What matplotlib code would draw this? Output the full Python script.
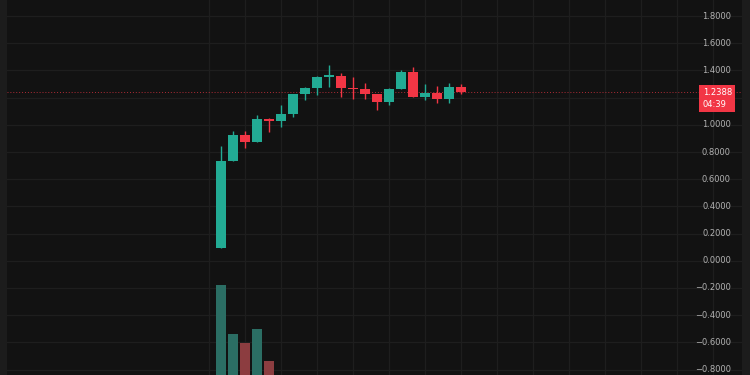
import numpy as np
import matplotlib.pyplot as plt
import matplotlib.transforms as mtransforms

# OHLC + volume
opens = [0.096, 0.735, 0.924, 0.877, 1.046, 1.027, 1.078, 1.223, 1.274, 1.355, 1.362,
         1.270, 1.260, 1.223, 1.169, 1.267, 1.385, 1.205, 1.233, 1.189, 1.279]
closes = [0.735, 0.924, 0.877, 1.046, 1.027, 1.078, 1.223, 1.274, 1.355, 1.362, 1.270,
          1.260, 1.223, 1.169, 1.267, 1.385, 1.205, 1.233, 1.189, 1.279, 1.2388]
highs = [0.846, 0.951, 0.956, 1.074, 1.050, 1.147, 1.223, 1.280, 1.360, 1.441, 1.380,
         1.350, 1.307, 1.230, 1.270, 1.404, 1.424, 1.299, 1.282, 1.307, 1.300]
lows = [0.096, 0.735, 0.829, 0.877, 0.949, 0.985, 1.057, 1.179, 1.218, 1.280, 1.208,
        1.190, 1.190, 1.108, 1.145, 1.267, 1.201, 1.184, 1.164, 1.160, 1.223]
volumes = [100, 55, 47, 60, 31, 12, 10, 9, 8, 11, 9, 6, 5, 7, 8, 9, 10, 6, 5, 6, 4]
countdown = '04:39'

price_ticks = np.round(np.arange(-0.8, 1.81, 0.2), 4)

UP = '#22ab94'
DOWN = '#f23645'
VOL_UP = '#2b6e64'
VOL_DOWN = '#8c3d40'
BG = '#121212'

fig = plt.figure(figsize=(7.5, 3.75), dpi=100, facecolor='#1c1c1c')
ax = fig.add_axes([7 / 750, 0, 735 / 750, 1])
ax.set_facecolor(BG)

x = np.arange(len(opens))
o = np.array(opens)
c = np.array(closes)
up = c >= o
colors = np.where(up, UP, DOWN)

ax.set_xlim(-17.83, 43.42)
ax.set_ylim(-0.840, 1.918)

# grid
ax.set_yticks(price_ticks)
ax.set_xticks(np.arange(-1, 44, 3))
ax.grid(color='#1e1e1e', linewidth=0.9)
ax.set_axisbelow(True)
ax.tick_params(length=0, labelleft=False, labelbottom=False)
for s in ax.spines.values():
    s.set_visible(False)

# candles
ax.vlines(x, lows, highs, colors=colors, linewidth=1.0, zorder=2)
body = np.maximum(np.abs(c - o), 0.008)
ax.bar(x, body, bottom=np.minimum(o, c), width=0.78, color=colors, zorder=3)

# volume on its own scale at the bottom
ax2 = ax.twinx()
ax2.set_ylim(18, 360)
ax2.bar(x, volumes, width=0.89, color=np.where(up, VOL_UP, VOL_DOWN), zorder=1)
ax2.set_axis_off()

last = closes[-1]

# price labels on the right (the one under the last-price tag is hidden)
trans = mtransforms.blended_transform_factory(ax.transAxes, ax.transData)
for v in price_ticks:
    if abs(v - last) < 0.08:
        continue
    lbl = f'{v + 0.0:.4f}'.replace('-', '\u2212')
    if abs(v) < 1e-9:
        lbl = '0.0000'
    ax.text(0.985, v, lbl, transform=trans, ha='right', va='center',
            fontsize=6, color='#b2b2b2')

# last price line + tag
ax.axhline(last, color=DOWN, linewidth=0.7, linestyle=(0, (1, 2)), alpha=0.7, zorder=1)
ax.annotate(f'{last:.4f}\n{countdown}', xy=(0.9465, last), xycoords=trans,
            xytext=(0, 4), textcoords='offset pixels', ha='left', va='top',
            fontsize=6, color='white', linespacing=1.35, zorder=10,
            bbox=dict(boxstyle='square,pad=0.4', fc=DOWN, ec='none'))

plt.savefig('out.png', dpi=100, facecolor=fig.get_facecolor())
